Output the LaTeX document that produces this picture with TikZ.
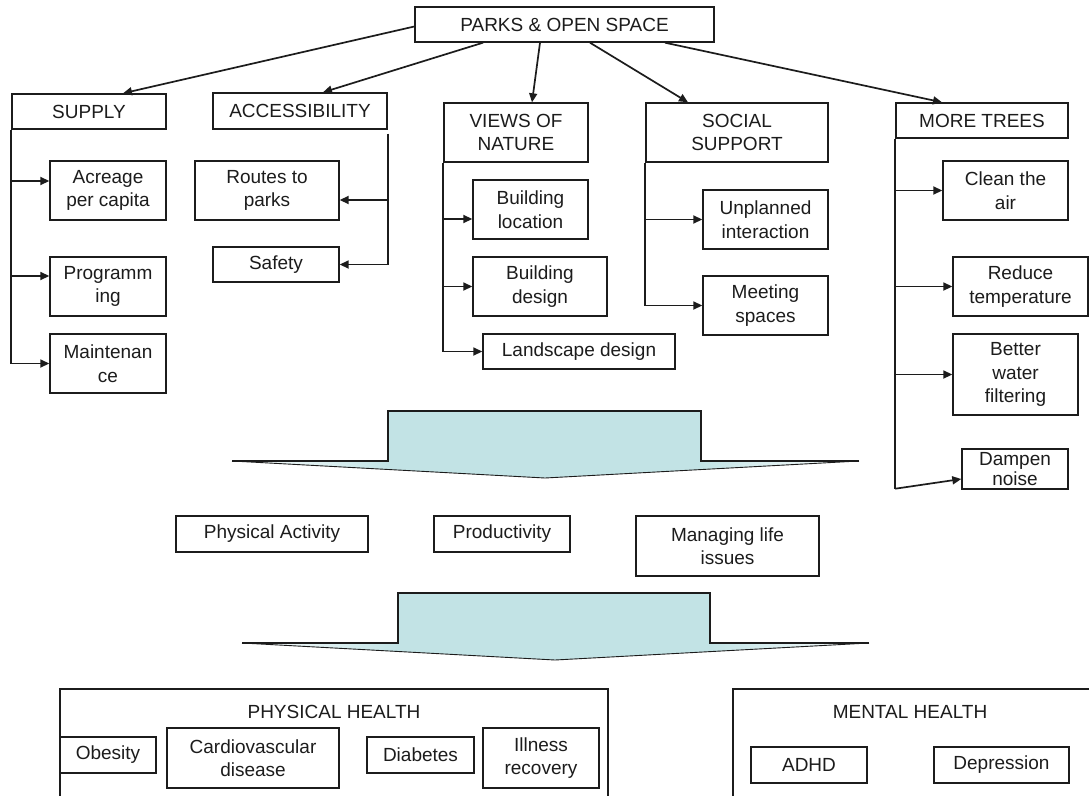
\documentclass[tikz,border=0pt]{standalone}
\usepackage{fontspec}
\setmainfont{Liberation Sans}
\usetikzlibrary{arrows.meta}
\definecolor{teal1}{RGB}{194,227,229}
\definecolor{ink}{RGB}{28,28,28}
\newcommand\mybox[6]{\node[bx, minimum width={(#4-#2)*1pt}, minimum height={(#5-#3)*1pt}] (#1) at ({(#2+#4)/2},{(#3+#5)/2}) {#6};}
\begin{document}
\begin{tikzpicture}[x=1pt,y=-1pt,
  bx/.style={draw=ink, line width=1.4pt, inner sep=0pt, align=center, font=\fontsize{19}{23.5}\selectfont, text=ink},
  lbl/.style={inner sep=0pt, font=\fontsize{19}{23.5}\selectfont, text=ink},
  ln/.style={draw=ink, line width=1.7pt},
  arr/.style={ln, -{Triangle[length=9pt,width=8pt]}},
  blk/.style={fill=teal1},
  blkline/.style={draw=ink, line width=1.3pt, line join=miter}]
\fill[white] (0,0) rectangle (1089,795);
\path[use as bounding box, clip] (0,0) rectangle (1089,795);

% ---- top level
\mybox{top}{415}{7}{714}{42}{PARKS \& OPEN SPACE}
\mybox{supply}{12}{94}{166}{129}{SUPPLY}
\mybox{acc}{213}{93}{387}{129}{ACCESSIBILITY}
\mybox{views}{444}{103}{588}{162}{VIEWS OF\\NATURE}
\mybox{social}{646}{103}{828}{162}{SOCIAL\\SUPPORT}
\mybox{trees}{896}{103}{1068}{138}{MORE TREES}

% ---- children
\mybox{acr}{50}{161}{166}{220}{Acreage\\per capita}
\mybox{prog}{50}{257}{166}{316}{Programm\\ing}
\mybox{mnt}{50}{334}{166}{393}{Maintenan\\ce}
\mybox{routes}{195}{161}{339}{220}{Routes to\\parks}
\mybox{safety}{213}{247}{339}{282}{Safety}
\mybox{bloc}{473}{180}{588}{239}{Building\\location}
\mybox{bdes}{473}{257}{607}{316}{Building\\design}
\mybox{land}{483}{334}{675}{369}{Landscape design}
\mybox{unpl}{703}{190}{828}{249}{Unplanned\\interaction}
\mybox{meet}{703}{276}{828}{335}{Meeting\\spaces}
\mybox{clean}{943}{161}{1068}{220}{Clean the\\air}
\mybox{reduce}{953}{257}{1088}{316}{Reduce\\temperature}
\mybox{water}{953}{334}{1078}{415}{Better\\water\\filtering}
\node[bx, font=\fontsize{19}{20}\selectfont, minimum width=106pt, minimum height=40pt] (damp) at (1015,469) {Dampen\\noise};

% ---- arrows from top
\draw[arr] ([yshift=-2pt]top.west) -- ([xshift=34pt]supply.north);
\draw[arr] ([xshift=-81.5pt]top.south) -- ([xshift=23pt]acc.north);
\draw[arr] ([xshift=-24.5pt]top.south) -- ([xshift=16pt]views.north);
\draw[arr] ([xshift=25.5pt]top.south) -- ([xshift=-49pt]social.north);
\draw[arr] ([xshift=100.5pt]top.south) -- ([xshift=-40pt]trees.north);

% ---- supply
\coordinate (acrIn) at ([yshift=9.5pt]acr.west);
\coordinate (progIn) at ([yshift=10.5pt]prog.west);
\draw[arr] (supply.south west) |- (mnt.west);
\draw[arr] (supply.south west |- acrIn) -- (acrIn);
\draw[arr] (supply.south west |- progIn) -- (progIn);

% ---- accessibility
\coordinate (rtIn) at ([yshift=-9.5pt]routes.east);
\draw[arr] ([yshift=-4pt]acc.south east) |- (safety.east);
\draw[arr] (acc.south east |- rtIn) -- (rtIn);

% ---- views
\coordinate (blIn) at ([yshift=-9.5pt]bloc.west);
\draw[arr] (views.south west) |- (land.west);
\draw[arr] (views.south west |- blIn) -- (blIn);
\draw[arr] (views.south west |- bdes.west) -- (bdes.west);

% ---- social
\draw[arr] (social.south west) |- (meet.west);
\draw[arr] (social.south west |- unpl.west) -- (unpl.west);

% ---- trees
\draw[ln] (trees.south west) -- ++(0,350) coordinate (tend);
\draw[arr] (trees.south west |- clean.west) -- (clean.west);
\draw[arr] (trees.south west |- reduce.west) -- (reduce.west);
\draw[arr] (trees.south west |- water.west) -- (water.west);
\coordinate (dIn) at ([yshift=-10pt]damp.west);
\draw[arr] (tend) -- (dIn);

% ---- upper block arrow
\fill[blk] (232,461) -- (388,461) -- (388,411) -- (701,411) -- (701,461) -- (859,461) -- (545,478) -- cycle;
\shade[left color=white, right color=teal1] (232,461) -- (388,461) -- (388,469.5) -- cycle;
\shade[left color=teal1, right color=white] (701,461) -- (859,461) -- (701,469.5) -- cycle;
\draw[blkline] (232,461) -- (388,461) -- (388,411) -- (701,411) -- (701,461) -- (859,461);
\draw[draw=ink, line width=0.9pt] (232,461) -- (545,478) -- (859,461);

% ---- middle row
\mybox{pa}{176}{516}{368}{552}{Physical Activity}
\mybox{prod}{434}{516}{570}{552}{Productivity}
\mybox{mli}{636}{516}{819}{576}{Managing life\\issues}

% ---- lower block arrow
\fill[blk] (242,643) -- (398,643) -- (398,593) -- (710,593) -- (710,643) -- (869,643) -- (555,660) -- cycle;
\shade[left color=white, right color=teal1] (242,643) -- (398,643) -- (398,651.5) -- cycle;
\shade[left color=teal1, right color=white] (710,643) -- (869,643) -- (710,651.5) -- cycle;
\draw[blkline] (242,643) -- (398,643) -- (398,593) -- (710,593) -- (710,643) -- (869,643);
\draw[draw=ink, line width=0.9pt] (242,643) -- (555,660) -- (869,643);

% ---- bottom health boxes
\mybox{phys}{60}{689}{608}{806}{}
\node[lbl] (physL) at (334,712) {PHYSICAL HEALTH};
\mybox{mental}{733}{689}{1096}{806}{}
\node[lbl] (mentL) at (910,712) {MENTAL HEALTH};
\mybox{obes}{60}{737}{156}{773}{Obesity}
\mybox{cardio}{167}{728}{339}{788}{Cardiovascular\\disease}
\mybox{diab}{367}{737}{474}{773}{Diabetes}
\mybox{ill}{483}{728}{599}{788}{Illness\\recovery}
\mybox{adhd}{751}{747}{867}{783}{ADHD}
\mybox{dep}{934}{747}{1069}{783}{Depression}
\end{tikzpicture}
\end{document}
